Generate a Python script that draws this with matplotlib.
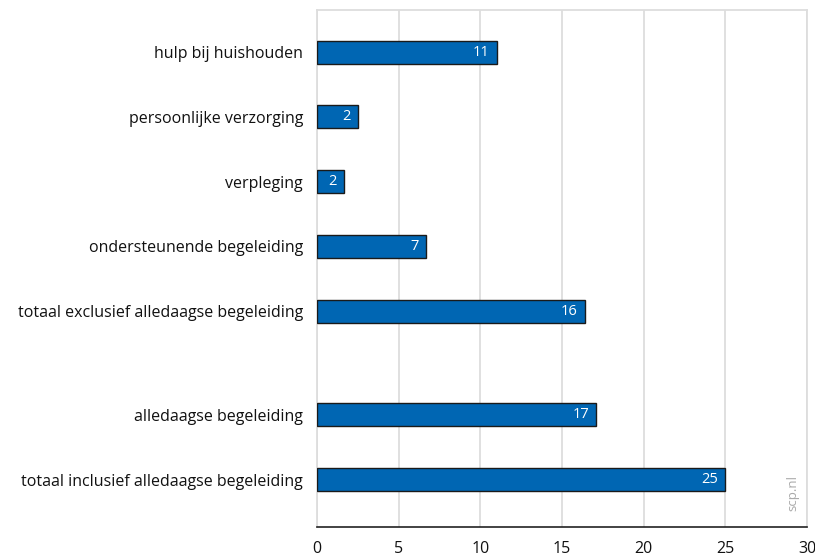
import matplotlib
matplotlib.use("Agg")
import matplotlib.pyplot as plt
import numpy as np

categories = [
    "hulp bij huishouden",
    "persoonlijke verzorging",
    "verpleging",
    "ondersteunende begeleiding",
    "totaal exclusief alledaagse begeleiding",
    "alledaagse begeleiding",
    "totaal inclusief alledaagse begeleiding",
]
values = [11.0, 2.5, 1.65, 6.7, 16.4, 17.1, 25.0]
value_labels = ["11", "2", "2", "7", "16", "17", "25"]
xticks = [0, 5, 10, 15, 20, 25, 30]

plt.rcParams['font.family'] = ['Open Sans', 'DejaVu Sans']

fig = plt.figure(figsize=(8.15, 5.56), dpi=100)
ax = fig.add_axes([317/815, 1-527/556, (807-317)/815, (527-10)/556])

gap = 0.6
pos = np.array([i + (gap if i >= 5 else 0) for i in range(len(categories))])

bar_color = "#0066b3"
ax.barh(pos, values, height=0.355, color=bar_color, edgecolor="#1a1a1a",
        linewidth=1.0, zorder=3)
for p, v, lab in zip(pos, values, value_labels):
    ax.text(v - 0.45, p, lab, color="white", ha="right", va="center",
            fontsize=10.5, zorder=4)

ax.set_ylim(pos[-1] + 0.73, pos[0] - 0.65)
ax.set_xlim(0, 30)
ax.set_yticks(pos)
ax.set_yticklabels(categories, fontsize=11.5, color="#111111")
ax.set_xticks(xticks)
ax.set_xticklabels([str(t) for t in xticks], fontsize=11.5, color="#111111")
ax.tick_params(axis="y", length=0, pad=10)
ax.tick_params(axis="x", length=0, pad=10)

ax.grid(axis="x", color="#dddddd", linewidth=1.3, zorder=0)
for s in ["top", "right", "left"]:
    ax.spines[s].set_color("#dddddd")
    ax.spines[s].set_linewidth(1.3)
ax.spines["bottom"].set_color("#222222")
ax.spines["bottom"].set_linewidth(1.2)
ax.spines["bottom"].set_zorder(5)

ax.text(0.972, 0.03, "scp.nl", transform=ax.transAxes, rotation=90,
        color="#aaaaaa", fontsize=9.5, ha="center", va="bottom")

fig.savefig("out.png", dpi=100)
